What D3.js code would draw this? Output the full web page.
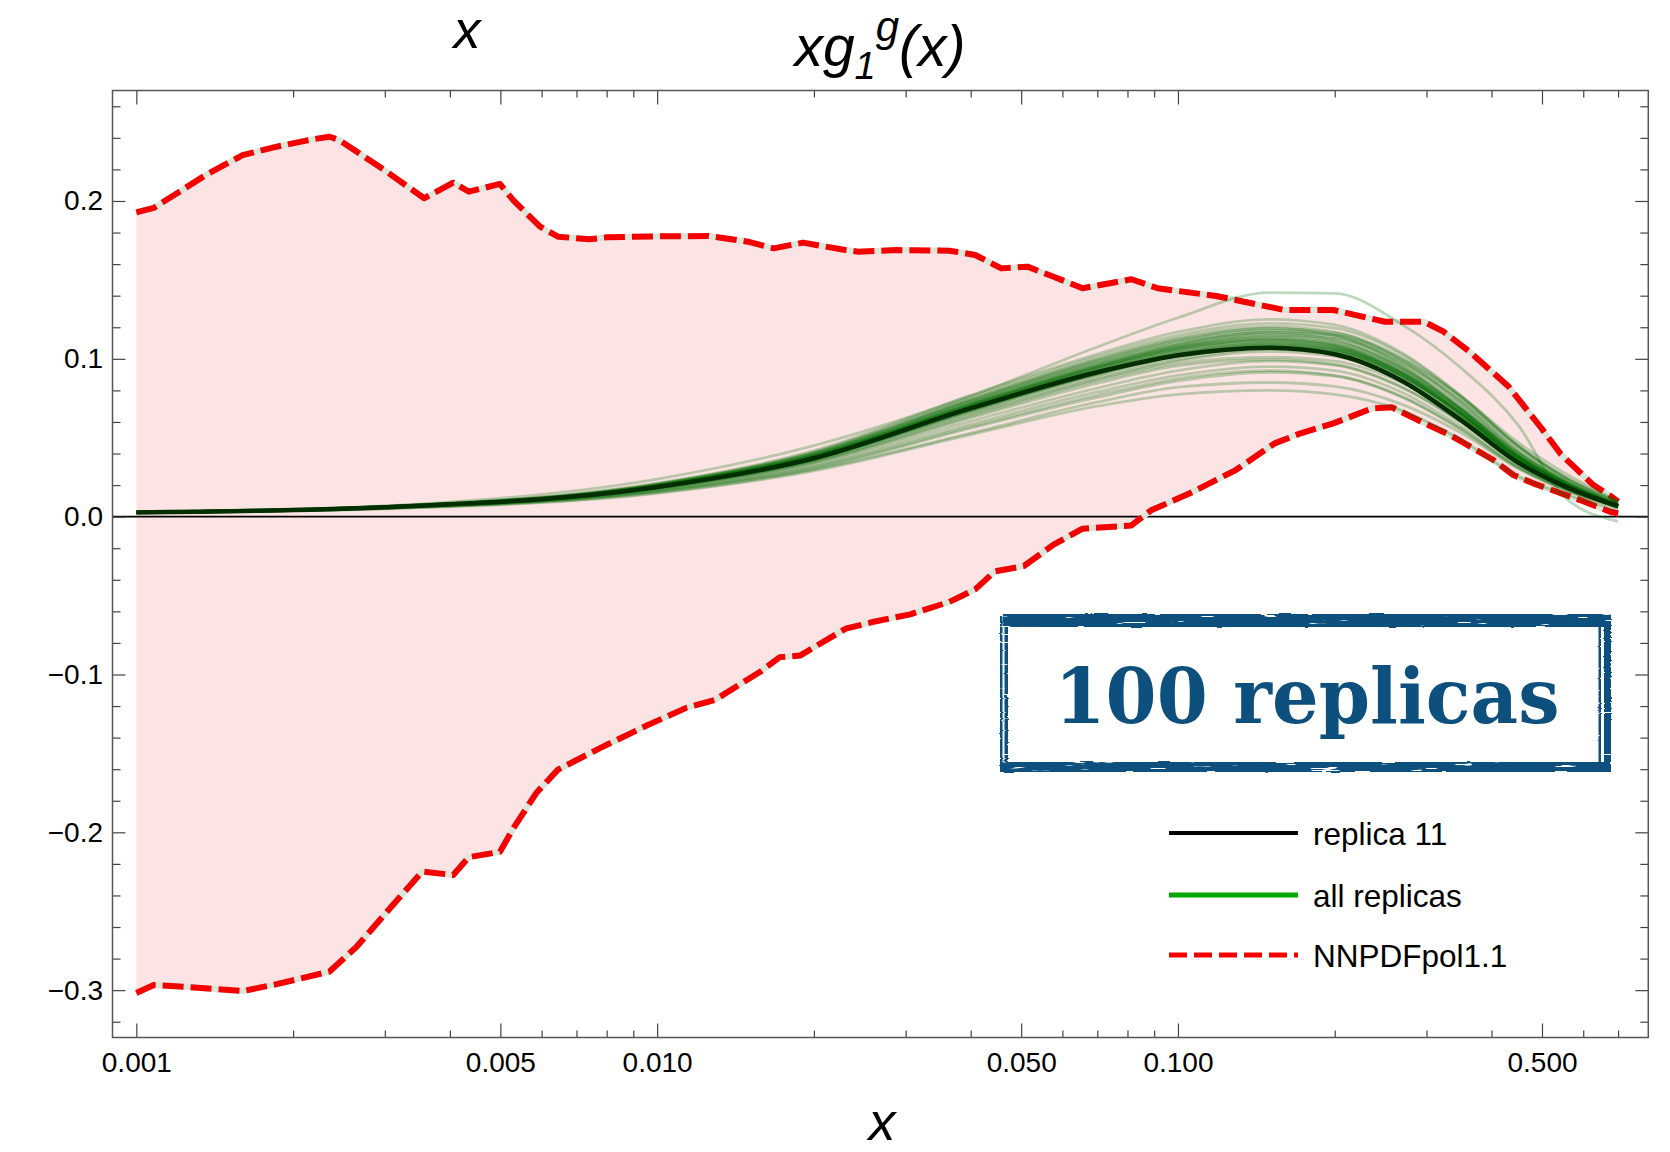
<!DOCTYPE html>
<html>
<head>
<meta charset="utf-8">
<script src="https://cdn.jsdelivr.net/npm/d3@7"></script>
<style>
  html, body { margin: 0; padding: 0; background: #fff; }
  svg { display: block; }
</style>
</head>
<body>
<svg id="chart" width="1670" height="1152"></svg>
<script>
// ---- NNPDFpol1.1 band: upper edge ----
const upperX = [0.00100, 0.00108, 0.00121, 0.00136, 0.00160, 0.00186, 0.00218, 0.00235, 0.00245, 0.00299,
  0.00357, 0.00406, 0.00435, 0.00499, 0.00529, 0.00596, 0.00645, 0.00740, 0.00801, 0.01000,
  0.01256, 0.01493, 0.01675, 0.01906, 0.02298, 0.02433, 0.02890, 0.03640, 0.04080, 0.04580,
  0.05140, 0.05770, 0.06560, 0.08140, 0.09140, 0.11830, 0.12910, 0.16010, 0.19870, 0.25000,
  0.29700, 0.32360, 0.36300, 0.43180, 0.49890, 0.54370, 0.62760, 0.68080, 0.70000];
const upperV = [0.1928, 0.1956, 0.2059, 0.2165, 0.2291, 0.2344, 0.2391, 0.2407, 0.2387, 0.2197,
  0.2017, 0.2116, 0.2059, 0.2108, 0.2006, 0.1837, 0.1774, 0.1757, 0.1770, 0.1776,
  0.1778, 0.1742, 0.1700, 0.1736, 0.1689, 0.1679, 0.1689, 0.1685, 0.1658, 0.1573,
  0.1584, 0.1520, 0.1447, 0.1504, 0.1447, 0.1398, 0.1373, 0.1309, 0.1309, 0.1235,
  0.1235, 0.1172, 0.1045, 0.0823, 0.0560, 0.0395, 0.0200, 0.0126, 0.0095];

// ---- NNPDFpol1.1 band: lower edge ----
const lowerX = [0.00100, 0.00108, 0.00121, 0.00160, 0.00186, 0.00235, 0.00265, 0.00304, 0.00354, 0.00406,
  0.00435, 0.00499, 0.00529, 0.00586, 0.00645, 0.00775, 0.00950, 0.01140, 0.01290, 0.01580,
  0.01720, 0.01880, 0.02300, 0.02620, 0.03060, 0.03640, 0.04080, 0.04450, 0.05060, 0.05770,
  0.06560, 0.08140, 0.08880, 0.10540, 0.12910, 0.15330, 0.17200, 0.19870, 0.23600, 0.25730,
  0.29800, 0.33300, 0.36900, 0.40330, 0.44060, 0.48130, 0.53370, 0.59180, 0.67600, 0.70000];
const lowerV = [-0.3018, -0.2968, -0.2977, -0.3006, -0.2962, -0.2882, -0.2724, -0.2497, -0.2248, -0.2271,
  -0.2157, -0.2124, -0.1977, -0.1751, -0.1603, -0.1468, -0.1327, -0.1210, -0.1162, -0.0981,
  -0.0890, -0.0880, -0.0710, -0.0664, -0.0619, -0.0540, -0.0461, -0.0347, -0.0313, -0.0177,
  -0.0076, -0.0056, 0.0040, 0.0148, 0.0295, 0.0464, 0.0528, 0.0591, 0.0686, 0.0693,
  0.0591, 0.0517, 0.0433, 0.0359, 0.0264, 0.0211, 0.0158, 0.0105, 0.0031, 0.0020];

// ---- Replica curves, sampled on a common x grid ----
const replicaX = [0.001, 0.003, 0.01, 0.02, 0.04, 0.07, 0.1, 0.15, 0.2, 0.27, 0.35, 0.45, 0.55, 0.7];
const replica11 = [0.0027, 0.0060, 0.0188, 0.0370, 0.0687, 0.0915, 0.1022, 0.1070, 0.1029, 0.0858, 0.0610, 0.0342, 0.0195, 0.0066];
const replicas = [
  [0.0028, 0.0062, 0.0195, 0.0385, 0.0710, 0.0950, 0.1070, 0.1130, 0.1090, 0.0920, 0.0660, 0.0380, 0.0215, 0.0070],
  [0.0027, 0.0059, 0.0185, 0.0362, 0.0672, 0.0905, 0.1020, 0.1085, 0.1060, 0.0910, 0.0680, 0.0400, 0.0225, 0.0072],
  [0.0028, 0.0063, 0.0200, 0.0395, 0.0730, 0.0980, 0.1110, 0.1180, 0.1150, 0.0980, 0.0720, 0.0420, 0.0235, 0.0075],
  [0.0027, 0.0060, 0.0190, 0.0375, 0.0695, 0.0930, 0.1050, 0.1110, 0.1075, 0.0895, 0.0640, 0.0360, 0.0205, 0.0068],
  [0.0029, 0.0064, 0.0205, 0.0405, 0.0745, 0.1000, 0.1135, 0.1205, 0.1170, 0.0990, 0.0725, 0.0415, 0.0230, 0.0078],
  [0.0027, 0.0059, 0.0183, 0.0355, 0.0655, 0.0880, 0.0995, 0.1060, 0.1040, 0.0885, 0.0650, 0.0375, 0.0210, 0.0070],
  [0.0028, 0.0061, 0.0192, 0.0380, 0.0705, 0.0948, 0.1075, 0.1150, 0.1130, 0.0975, 0.0735, 0.0440, 0.0250, 0.0085],
  [0.0029, 0.0065, 0.0208, 0.0410, 0.0755, 0.1015, 0.1150, 0.1225, 0.1195, 0.1025, 0.0760, 0.0445, 0.0250, 0.0090],
  [0.0027, 0.0058, 0.0180, 0.0350, 0.0645, 0.0870, 0.0985, 0.1045, 0.1015, 0.0860, 0.0625, 0.0355, 0.0200, 0.0068],
  [0.0028, 0.0062, 0.0197, 0.0390, 0.0720, 0.0965, 0.1090, 0.1160, 0.1120, 0.0940, 0.0680, 0.0385, 0.0215, 0.0072],
  [0.0028, 0.0063, 0.0202, 0.0400, 0.0735, 0.0985, 0.1115, 0.1190, 0.1165, 0.1005, 0.0750, 0.0450, 0.0260, 0.0095],
  [0.0027, 0.0060, 0.0188, 0.0368, 0.0680, 0.0915, 0.1035, 0.1100, 0.1070, 0.0905, 0.0655, 0.0365, 0.0205, 0.0070],
  [0.0028, 0.0061, 0.0193, 0.0378, 0.0700, 0.0940, 0.1060, 0.1120, 0.1085, 0.0910, 0.0650, 0.0365, 0.0200, 0.0066],
  [0.0029, 0.0064, 0.0204, 0.0402, 0.0740, 0.0995, 0.1125, 0.1195, 0.1150, 0.0955, 0.0680, 0.0380, 0.0210, 0.0070],
  [0.0028, 0.0062, 0.0196, 0.0388, 0.0715, 0.0960, 0.1090, 0.1170, 0.1150, 0.0995, 0.0760, 0.0470, 0.0280, 0.0100],
  [0.0027, 0.0059, 0.0186, 0.0365, 0.0675, 0.0905, 0.1020, 0.1075, 0.1045, 0.0880, 0.0640, 0.0365, 0.0208, 0.0070],
  [0.0029, 0.0066, 0.0212, 0.0418, 0.0768, 0.1030, 0.1170, 0.1250, 0.1215, 0.1035, 0.0765, 0.0450, 0.0255, 0.0088],
  [0.0027, 0.0058, 0.0178, 0.0345, 0.0635, 0.0860, 0.0970, 0.1010, 0.0985, 0.0845, 0.0625, 0.0360, 0.0205, 0.0070],
  [0.0026, 0.0057, 0.0175, 0.0340, 0.0625, 0.0845, 0.0955, 0.0995, 0.0965, 0.0820, 0.0600, 0.0345, 0.0195, 0.0066],
  [0.0026, 0.0056, 0.0170, 0.0330, 0.0605, 0.0815, 0.0925, 0.0985, 0.0960, 0.0815, 0.0595, 0.0335, 0.0190, 0.0064],
  [0.0026, 0.0055, 0.0165, 0.0320, 0.0585, 0.0790, 0.0895, 0.0950, 0.0925, 0.0785, 0.0570, 0.0320, 0.0180, 0.0060],
  [0.0025, 0.0053, 0.0158, 0.0305, 0.0560, 0.0755, 0.0860, 0.0915, 0.0890, 0.0755, 0.0550, 0.0310, 0.0175, 0.0058],
  [0.0025, 0.0050, 0.0148, 0.0290, 0.0520, 0.0700, 0.0775, 0.0800, 0.0775, 0.0670, 0.0485, 0.0255, 0.0145, 0.0040],
  [0.0025, 0.0052, 0.0152, 0.0298, 0.0530, 0.0725, 0.0820, 0.0850, 0.0825, 0.0710, 0.0530, 0.0305, 0.0172, 0.0055],
  [0.0026, 0.0054, 0.0162, 0.0312, 0.0570, 0.0770, 0.0875, 0.0925, 0.0895, 0.0760, 0.0555, 0.0315, 0.0178, 0.0060],
  [0.0030, 0.0068, 0.0238, 0.0450, 0.0765, 0.1075, 0.1260, 0.1420, 0.1415, 0.1215, 0.0940, 0.0580, 0.0130, -0.0030],
  [0.0027, 0.0060, 0.0189, 0.0372, 0.0690, 0.0922, 0.1038, 0.1095, 0.1062, 0.0890, 0.0640, 0.0360, 0.0204, 0.0068],
  [0.0028, 0.0061, 0.0191, 0.0377, 0.0698, 0.0935, 0.1055, 0.1115, 0.1082, 0.0912, 0.0662, 0.0375, 0.0212, 0.0070],
  [0.0027, 0.0060, 0.0187, 0.0367, 0.0680, 0.0912, 0.1028, 0.1088, 0.1058, 0.0895, 0.0655, 0.0372, 0.0210, 0.0070],
  [0.0028, 0.0062, 0.0194, 0.0383, 0.0708, 0.0948, 0.1072, 0.1138, 0.1105, 0.0935, 0.0680, 0.0388, 0.0218, 0.0072],
  [0.0028, 0.0061, 0.0192, 0.0379, 0.0702, 0.0940, 0.1062, 0.1125, 0.1095, 0.0930, 0.0682, 0.0392, 0.0222, 0.0074],
  [0.0027, 0.0059, 0.0184, 0.0360, 0.0665, 0.0895, 0.1010, 0.1072, 0.1048, 0.0890, 0.0655, 0.0378, 0.0214, 0.0071],
  [0.0028, 0.0063, 0.0199, 0.0392, 0.0725, 0.0972, 0.1100, 0.1168, 0.1135, 0.0962, 0.0705, 0.0405, 0.0228, 0.0075],
  [0.0027, 0.0060, 0.0189, 0.0371, 0.0686, 0.0920, 0.1040, 0.1102, 0.1072, 0.0908, 0.0668, 0.0385, 0.0218, 0.0073],
  [0.0028, 0.0062, 0.0196, 0.0386, 0.0712, 0.0955, 0.1080, 0.1145, 0.1112, 0.0945, 0.0695, 0.0402, 0.0228, 0.0076],
  [0.0027, 0.0059, 0.0185, 0.0363, 0.0672, 0.0902, 0.1018, 0.1080, 0.1050, 0.0888, 0.0650, 0.0370, 0.0210, 0.0069]
];

// ---- Axis ticks and labels ----
const xMajorTicks = [0.001, 0.005, 0.01, 0.05, 0.1, 0.5];
const xMajorLabels = ["0.001", "0.005", "0.010", "0.050", "0.100", "0.500"];
const xMinorTicks = [0.002, 0.003, 0.004, 0.006, 0.007, 0.008, 0.009, 0.02, 0.03, 0.04,
  0.06, 0.07, 0.08, 0.09, 0.2, 0.3, 0.4, 0.6, 0.7];
const yMajorTicks = [-0.3, -0.2, -0.1, 0.0, 0.1, 0.2];
const yMajorLabels = ["\u22120.3", "\u22120.2", "\u22120.1", "0.0", "0.1", "0.2"];
const yMinorTicks = [-0.32, -0.28, -0.26, -0.24, -0.22, -0.18, -0.16, -0.14, -0.12, -0.08, -0.06, -0.04, -0.02,
  0.02, 0.04, 0.06, 0.08, 0.12, 0.14, 0.16, 0.18, 0.22, 0.24, 0.26];
const legendLabels = ["replica 11", "all replicas", "NNPDFpol1.1"];
const stampText = "100 replicas";

// ---- Layout ----
const frame = { left: 112.5, right: 1648.3, top: 90.5, bottom: 1037.5 };
const x = d3.scaleLog().domain([0.0009, 0.8]).range([frame.left, frame.right]);
const y = d3.scaleLinear().domain([-0.33, 0.27]).range([frame.bottom, frame.top]);

const svg = d3.select("#chart");
const defs = svg.append("defs");
defs.append("clipPath").attr("id", "plotClip").append("rect")
  .attr("x", frame.left).attr("y", frame.top)
  .attr("width", frame.right - frame.left).attr("height", frame.bottom - frame.top);

// rough, worn edge for the stamp frame
const grunge = defs.append("filter").attr("id", "grunge")
  .attr("x", "-5%").attr("y", "-20%").attr("width", "110%").attr("height", "140%");
grunge.append("feTurbulence").attr("type", "fractalNoise").attr("baseFrequency", "0.04 0.6")
  .attr("numOctaves", 2).attr("seed", 7).attr("result", "n1");
grunge.append("feDisplacementMap").attr("in", "SourceGraphic").attr("in2", "n1").attr("scale", 2.5)
  .attr("xChannelSelector", "R").attr("yChannelSelector", "G").attr("result", "d");
grunge.append("feTurbulence").attr("type", "fractalNoise").attr("baseFrequency", "0.02 0.5")
  .attr("numOctaves", 3).attr("seed", 11).attr("result", "n2");
grunge.append("feColorMatrix").attr("in", "n2").attr("type", "matrix")
  .attr("values", "0 0 0 0 0  0 0 0 0 0  0 0 0 0 0  0 0 0 -25 19").attr("result", "holes");
grunge.append("feComposite").attr("in", "d").attr("in2", "holes").attr("operator", "in");

const plot = svg.append("g").attr("clip-path", "url(#plotClip)");
const toPts = (xs, vs) => xs.map((v, i) => [v, vs[i]]);
const straight = d3.line().x(d => x(d[0])).y(d => y(d[1]));
const smooth = d3.line().defined(d => d[1] != null).curve(d3.curveMonotoneX)
  .x(d => x(d[0])).y(d => y(d[1]));

const upperPts = toPts(upperX, upperV);
const lowerPts = toPts(lowerX, lowerV);

// shaded band between the two edges
plot.append("path")
  .attr("d", straight(upperPts.concat(lowerPts.slice().reverse())) + "Z")
  .attr("fill", "#fde4e4");

// zero line
plot.append("line")
  .attr("x1", frame.left).attr("x2", frame.right)
  .attr("y1", y(0)).attr("y2", y(0))
  .attr("stroke", "#000").attr("stroke-width", 1.6);

// band edges: pale underlay + red dashes
[upperPts, lowerPts].forEach(pts => {
  plot.append("path").attr("d", straight(pts)).attr("fill", "none")
    .attr("stroke", "#dbe5d8").attr("stroke-width", 6).attr("stroke-linejoin", "round");
  plot.append("path").attr("d", straight(pts)).attr("fill", "none")
    .attr("stroke", "#f50000").attr("stroke-width", 6)
    .attr("stroke-dasharray", "21 7").attr("stroke-linejoin", "round");
});

// all replicas
plot.append("g").selectAll("path").data(replicas).join("path")
  .attr("d", r => smooth(toPts(replicaX, r)))
  .attr("fill", "none").attr("stroke", "#006b00")
  .attr("stroke-opacity", 0.26).attr("stroke-width", 2.8);

// replica 11
plot.append("path").attr("d", smooth(toPts(replicaX, replica11)))
  .attr("fill", "none").attr("stroke", "#022e02").attr("stroke-width", 4.5);

// ---- Frame and ticks ----
const tickFont = "'Liberation Sans', Arial, sans-serif";
function styleAxis(g) {
  g.select(".domain").remove();
  g.selectAll(".tick line").attr("stroke", "#444").attr("stroke-width", 1.2);
  g.attr("font-family", tickFont).attr("font-size", 28);
  g.selectAll(".tick text").attr("fill", "#000");
}
svg.append("g").attr("transform", `translate(0,${frame.bottom})`)
  .call(d3.axisBottom(x).tickValues(xMajorTicks).tickSize(-14).tickPadding(15)
    .tickFormat((d, i) => xMajorLabels[i])).call(styleAxis);
svg.append("g").attr("transform", `translate(0,${frame.bottom})`)
  .call(d3.axisBottom(x).tickValues(xMinorTicks).tickSize(-7).tickFormat("")).call(styleAxis);
svg.append("g").attr("transform", `translate(0,${frame.top})`)
  .call(d3.axisTop(x).tickValues(xMajorTicks).tickSize(-14).tickFormat("")).call(styleAxis);
svg.append("g").attr("transform", `translate(0,${frame.top})`)
  .call(d3.axisTop(x).tickValues(xMinorTicks).tickSize(-7).tickFormat("")).call(styleAxis);
svg.append("g").attr("transform", `translate(${frame.left},0)`)
  .call(d3.axisLeft(y).tickValues(yMajorTicks).tickSize(-13).tickPadding(9.5)
    .tickFormat((d, i) => yMajorLabels[i])).call(styleAxis);
svg.append("g").attr("transform", `translate(${frame.left},0)`)
  .call(d3.axisLeft(y).tickValues(yMinorTicks).tickSize(-8).tickFormat("")).call(styleAxis);
svg.append("g").attr("transform", `translate(${frame.right},0)`)
  .call(d3.axisRight(y).tickValues(yMajorTicks).tickSize(-13).tickFormat("")).call(styleAxis);
svg.append("g").attr("transform", `translate(${frame.right},0)`)
  .call(d3.axisRight(y).tickValues(yMinorTicks).tickSize(-8).tickFormat("")).call(styleAxis);

svg.append("rect")
  .attr("x", frame.left).attr("y", frame.top)
  .attr("width", frame.right - frame.left).attr("height", frame.bottom - frame.top)
  .attr("fill", "none").attr("stroke", "#555").attr("stroke-width", 1.5);

// ---- Titles ----
const italic = (sel, size) => sel.attr("font-family", tickFont).attr("font-style", "italic").attr("font-size", size);
const title = svg.append("text").attr("x", 880).attr("y", 66).attr("text-anchor", "middle").call(italic, 57);
title.append("tspan").text("xg");
title.append("tspan").attr("font-size", 38).attr("dy", 13).text("1");
title.append("tspan").attr("font-size", 42).attr("dy", -38).text("g");
title.append("tspan").attr("font-size", 57).attr("dy", 25).text("(x)");

svg.append("text").attr("x", 467).attr("y", 48).attr("text-anchor", "middle").call(italic, 54).text("x");
svg.append("text").attr("x", 882).attr("y", 1140).attr("text-anchor", "middle").call(italic, 54).text("x");

// ---- Stamp ----
const stampColor = "#0d4f7d";
const stamp = svg.append("g");
const border = stamp.append("g").attr("fill", stampColor).attr("filter", "url(#grunge)");
[
  [1003, 614, 606, 13],   // top band
  [1001, 762, 610, 10],   // bottom band
  [1000, 616, 2.5, 156],  // left outer
  [1004.5, 622, 3.5, 144],// left inner
  [1604, 614, 7, 158],    // right outer
  [1598.5, 624, 2.5, 140] // right inner
].forEach(([bx, by, bw, bh]) => {
  border.append("rect").attr("x", bx).attr("y", by).attr("width", bw).attr("height", bh);
});
stamp.append("text")
  .attr("x", 1307).attr("y", 723).attr("text-anchor", "middle")
  .attr("font-family", "'DejaVu Serif', serif").attr("font-weight", "bold")
  .attr("font-size", 76).attr("fill", stampColor)
  .attr("textLength", 505).attr("lengthAdjust", "spacingAndGlyphs")
  .text(stampText);

// ---- Legend ----
const legendRows = [
  { y: 833, stroke: "#000", width: 4, dash: null },
  { y: 895, stroke: "#00a800", width: 5, dash: null },
  { y: 955, stroke: "#f50000", width: 5, dash: "18 7" }
];
const legend = svg.append("g");
legendRows.forEach((row, i) => {
  legend.append("line")
    .attr("x1", 1169).attr("x2", 1298).attr("y1", row.y).attr("y2", row.y)
    .attr("stroke", row.stroke).attr("stroke-width", row.width)
    .attr("stroke-dasharray", row.dash);
  legend.append("text")
    .attr("x", 1313).attr("y", row.y + 12)
    .attr("font-family", tickFont).attr("font-size", 31.5).attr("fill", "#000")
    .text(legendLabels[i]);
});
</script>
</body>
</html>
